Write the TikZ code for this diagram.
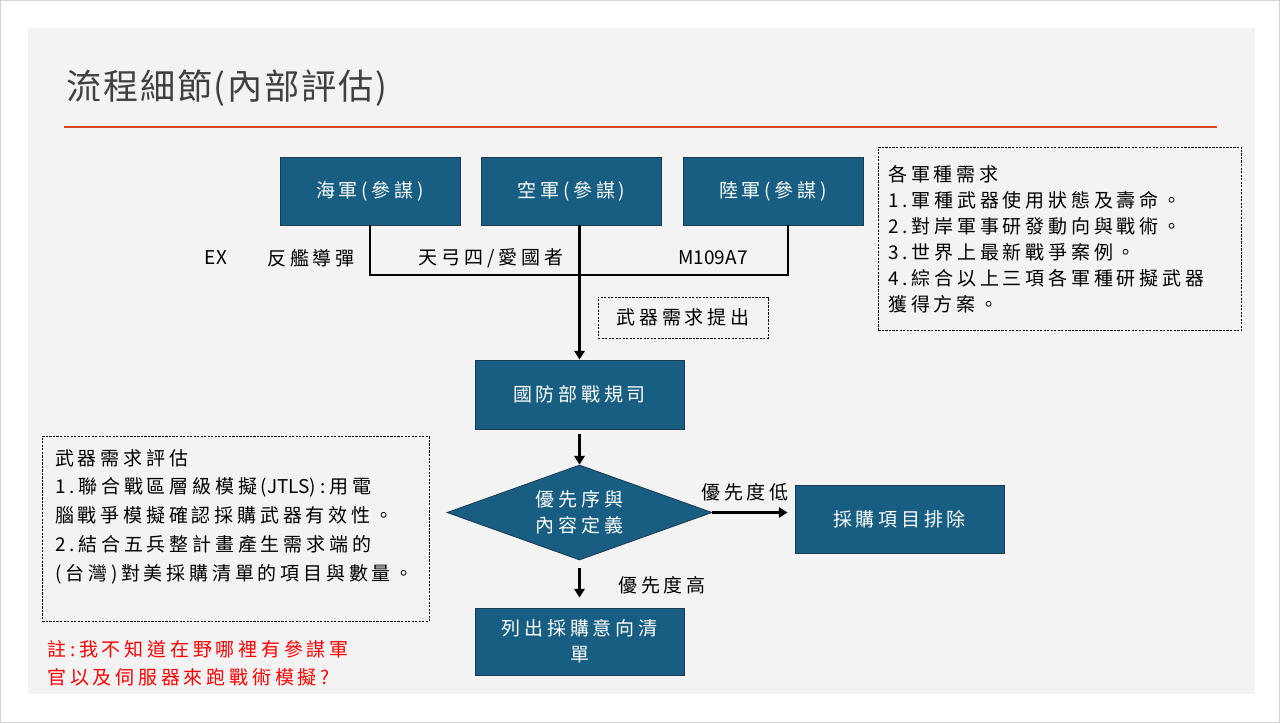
\documentclass[tikz,border=0pt]{standalone}
\usepackage{fontspec}
\setmainfont{Noto Sans CJK TC}[LetterSpace=20]
\newfontfamily\titlefont{Noto Sans CJK TC}[LetterSpace=5]
\newfontfamily\plainfont{Noto Sans CJK TC}
\usepackage{xcolor}
\usepackage{tikz}
\usetikzlibrary{arrows.meta,positioning,calc,shapes.geometric}
\definecolor{boxblue}{HTML}{175E82}
\definecolor{boxedge}{HTML}{1E3B52}
\definecolor{slidegray}{HTML}{F3F3F3}
\definecolor{framegray}{HTML}{D4D4D4}
\definecolor{titlegray}{HTML}{404040}
\definecolor{titlered}{HTML}{D6461F}
\definecolor{notered}{HTML}{FF0000}

\begin{document}
\begin{tikzpicture}[x=0.025cm,y=-0.025cm,
  unitbox/.style={draw=boxedge,line width=0.6pt,fill=boxblue,text=white,
    align=center,inner sep=0pt,font=\fontsize{13.5}{18.5}\selectfont},
  decision/.style={unitbox,diamond,aspect=2.79,minimum width=6.625cm,minimum height=2.375cm},
  note/.style={draw=black,line width=0.6pt,dash pattern=on 1.6pt off 0.9pt,
    align=left,anchor=north west},
  tag/.style={inner sep=0pt,font=\fontsize{13.5}{18.5}\selectfont},
  link/.style={line width=1.6pt},
  arrow/.style={link,-{Triangle[length=0.22cm,width=0.26cm]}}
]
\useasboundingbox (0,0) rectangle (1280,723);
% slide
\draw[framegray] (0.5,0.5) rectangle (1279.5,722.5);
\fill[slidegray] (28,28) rectangle (1255,694);
\node[anchor=west,inner sep=0pt,text=titlegray,
  font=\titlefont\fontsize{25}{30}\selectfont] (title) at (66,88) {流程細節(內部評估)};
\draw[titlered,line width=1.4pt] (64,127) -- (1217,127);

% services
\node[unitbox,minimum width=4.5cm,minimum height=1.7cm] (hai) at (370,191) {海軍(參謀)};
\node[unitbox,minimum width=4.5cm,minimum height=1.7cm] (kong) at (571.5,191) {空軍(參謀)};
\node[unitbox,minimum width=4.5cm,minimum height=1.7cm] (lu) at (773,191) {陸軍(參謀)};

\node[tag,font=\plainfont\fontsize{13.5}{18.5}\selectfont] (ex) at (216,258) {EX};
\node[tag] (haiex) at (311,258) {反艦導彈};
\node[tag] (kongex) at (491,258) {天弓四/愛國者};
\node[tag,font=\plainfont\fontsize{13.5}{18.5}\selectfont] (luex) at (713,258) {M109A7};

% flow
\node[unitbox,minimum width=5.225cm,minimum height=1.725cm] (guofang) at (579.5,394.5) {國防部戰規司};
\node[note,anchor=center,minimum width=4.25cm,minimum height=1.025cm,
  font=\fontsize{13.5}{18.5}\selectfont] (tichu) at (683,317.5) {武器需求提出};
\node[decision] (prio) at (579.5,512.5) {優先序與\\內容定義};
\node[unitbox,minimum width=5.225cm,minimum height=1.7cm] (paichu) at (899.5,519) {採購項目排除};
\node[unitbox,minimum width=5.225cm,minimum height=1.675cm] (liechu) at (579.5,641.5) {列出採購意向清\\單};
\node[tag] (low) at (745,492) {優先度低};
\node[tag] (high) at (662,585) {優先度高};

\coordinate (joint) at (579.5,275);
\draw[link] (hai.south) |- (joint);
\draw[link] ([xshift=0.375cm]lu.south) |- (joint);
\draw[arrow] (kong.south -| guofang.north) -- (guofang.north);
\draw[arrow] ([yshift=-0.125cm]guofang.south) -- (prio.north);
\draw[arrow] (prio.east) -- ([xshift=-0.175cm]prio.east -| paichu.west);
\draw[arrow] ([yshift=-0.2cm]prio.south) -- ([yshift=0.25cm]liechu.north);

% notes
\node[note,text width=8.575cm,minimum height=4.575cm,inner sep=0.25cm,
  font=\fontsize{13.5}{18.5}\selectfont] (need) at (878,147)
  {各軍種需求\\1.軍種武器使用狀態及壽命。\\2.對岸軍事研發動向與戰術。\\3.世界上最新戰爭案例。\\4.綜合以上三項各軍種研擬武器\\獲得方案。};
\node[note,text width=9.025cm,minimum height=4.625cm,inner sep=0.32cm,
  font=\fontsize{13.5}{20.4}\selectfont] (eval) at (42,436)
  {武器需求評估\\1.聯合戰區層級模擬({\plainfont JTLS}):用電\\腦戰爭模擬確認採購武器有效性。\\2.結合五兵整計畫產生需求端的\\(台灣)對美採購清單的項目與數量。\\\mbox{}};
\node[anchor=north west,inner sep=0pt,align=left,text=notered,
  font=\fontsize{13.5}{20}\selectfont] (remark) at (47,640)
  {註:我不知道在野哪裡有參謀軍\\官以及伺服器來跑戰術模擬?};
\end{tikzpicture}
\end{document}
